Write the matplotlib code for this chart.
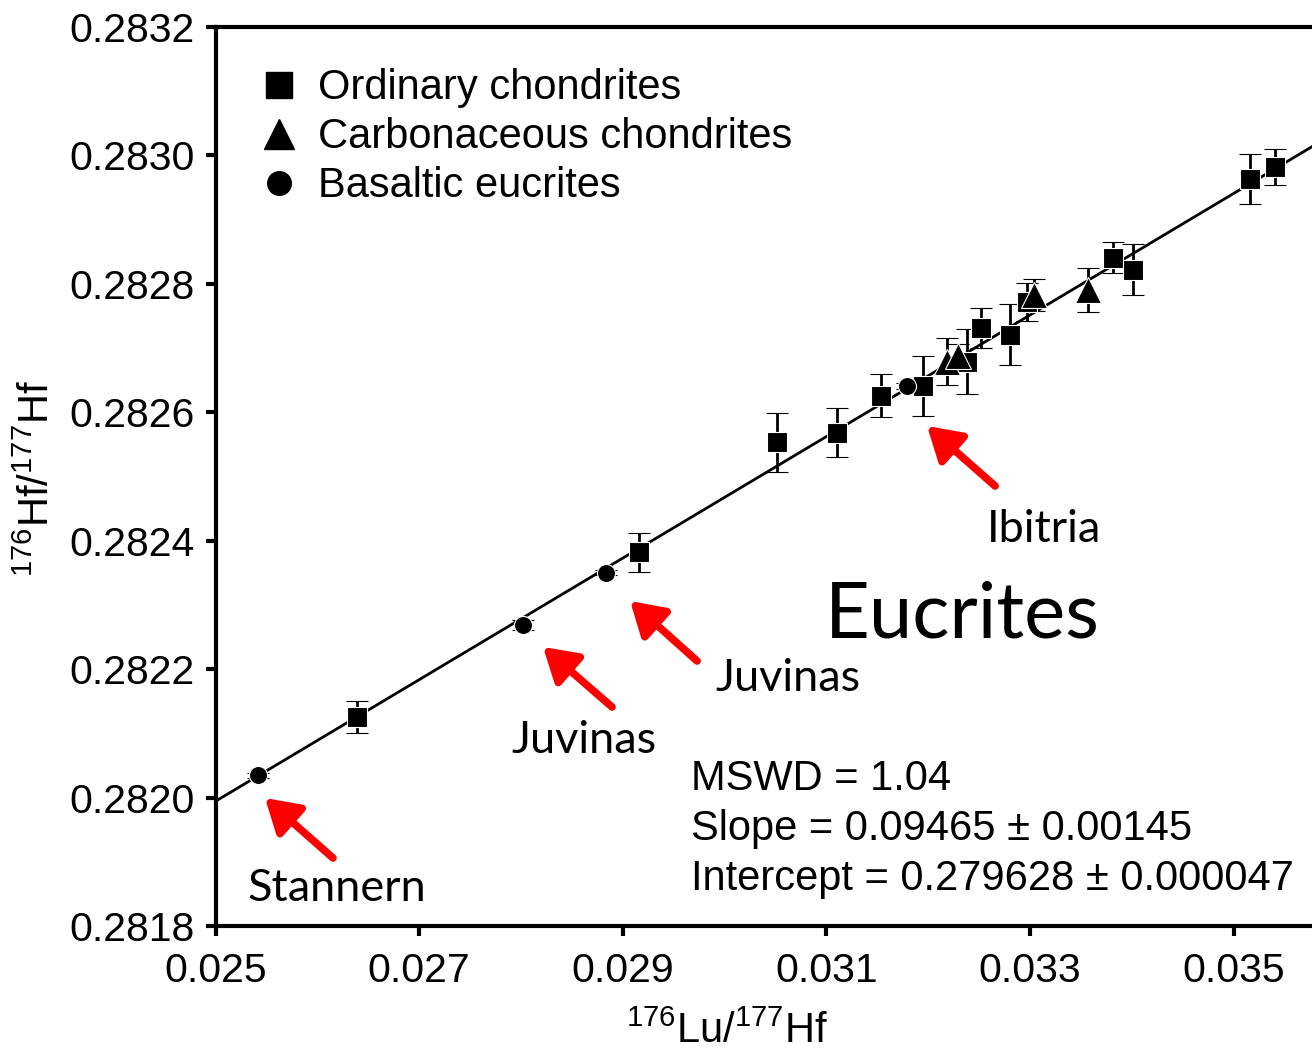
"""Lu-Hf isochron for chondrites and basaltic eucrites."""

import matplotlib

matplotlib.use("Agg")
import matplotlib.pyplot as plt
import numpy as np
from matplotlib.lines import Line2D

# ordinary chondrites
oc_x = [0.02639, 0.02916, 0.030516, 0.031102, 0.031534, 0.031953, 0.032379,
        0.032517, 0.032805, 0.032969, 0.033813, 0.034010, 0.035162, 0.035408]
oc_y = [0.282126, 0.282382, 0.282553, 0.282568, 0.282626, 0.282641, 0.282679,
        0.282731, 0.282721, 0.282772, 0.282841, 0.282822, 0.282964, 0.282982]
oc_err = [0.000025, 0.000030, 0.000046, 0.000038, 0.000034, 0.000047, 0.000050,
          0.000031, 0.000047, 0.000030, 0.000024, 0.000040, 0.000039, 0.000028]

# carbonaceous chondrites
cc_x = [0.032189, 0.032297, 0.033040, 0.033574]
cc_y = [0.282679, 0.282687, 0.282783, 0.282790]
cc_err = [0.000036, 0.000020, 0.000025, 0.000034]

# basaltic eucrites
be_x = [0.025417, 0.028021, 0.028836, 0.031790]
be_y = [0.282035, 0.282269, 0.282350, 0.282641]
be_err = [0.000004, 0.000008, 0.000004, 0.000004]

slope = 0.09465
intercept = 0.279628
stats = ["MSWD = 1.04",
         "Slope = 0.09465 \u00b1 0.00145",
         "Intercept = 0.279628 \u00b1 0.000047"]

# label, text position, arrow tail, arrow head
notes = [
    ("Stannern", (0.026194, 0.2818590), (0.026154, 0.2819059), (0.025486, 0.2819993)),
    ("Juvinas", (0.028620, 0.2820890), (0.028895, 0.2821410), (0.028217, 0.2822345)),
    ("Juvinas", (0.030624, 0.2821860), (0.029730, 0.2822127), (0.029072, 0.2823061)),
    ("Ibitria", (0.033139, 0.2824180), (0.032657, 0.2824852), (0.031989, 0.2825786)),
]

XLIM = (0.025, 0.03577)
YLIM = (0.2818, 0.2832)

plt.rcParams["font.family"] = ["Liberation Sans", "DejaVu Sans"]
plt.rcParams["mathtext.default"] = "regular"

fig = plt.figure(figsize=(13.12, 10.54), dpi=100)
ax = fig.add_axes([215.5 / 1312, 1 - 926 / 1054, 1 - 215.5 / 1312, 899 / 1054])
W, H = 1312 - 215.5, 899

xx = np.array(XLIM)
ax.plot(xx, intercept + slope * xx, color="black", lw=2, zorder=2)

eb = dict(ecolor="black", elinewidth=2, capsize=8, capthick=2, mfc="black",
          mec="white", mew=0.8, ls="none", zorder=3)
ax.errorbar(oc_x, oc_y, yerr=oc_err, fmt="s", ms=14.5, **eb)
ax.errorbar(cc_x, cc_y, yerr=cc_err, fmt="^", ms=19, **eb)
ax.errorbar(be_x, be_y, yerr=be_err, fmt="o", ms=13, **eb)

ax.set_xlim(*XLIM)
ax.set_ylim(*YLIM)
ax.set_xticks([0.025, 0.027, 0.029, 0.031, 0.033, 0.035])
ax.set_xticklabels(["0.025", "0.027", "0.029", "0.031", "0.033", "0.035"])
ax.set_yticks(np.arange(0.2818, 0.28321, 0.0002))
ax.set_yticklabels(["0.2818", "0.2820", "0.2822", "0.2824", "0.2826",
                    "0.2828", "0.2830", "0.2832"])
ax.tick_params(direction="out", length=7, width=3, labelsize=29.5)
ax.tick_params(axis="y", pad=8)
ax.tick_params(axis="x", pad=12)
ax.spines["right"].set_visible(False)
for s in ("left", "top", "bottom"):
    ax.spines[s].set_linewidth(3)

ax.set_xlabel("$^{176}$Lu/$^{177}$Hf", fontsize=30)
ax.xaxis.set_label_coords((727 - 215.5) / W, -(1012 - 926) / H)
ax.set_ylabel("$^{176}$Hf/$^{177}$Hf", fontsize=30)
ax.yaxis.set_label_coords(-(215.5 - 58) / W, (926 - 478) / H)

handles = [
    Line2D([], [], marker="s", color="black", ls="none", ms=18.5),
    Line2D([], [], marker="^", color="black", ls="none", ms=21),
    Line2D([], [], marker="o", color="black", ls="none", ms=17),
]
ax.legend(handles, ["Ordinary chondrites", "Carbonaceous chondrites",
                    "Basaltic eucrites"],
          loc="upper left", bbox_to_anchor=(0.005, 0.996), frameon=False,
          fontsize=30, handlelength=1.0, handletextpad=0.42, labelspacing=0.22)

for i, line in enumerate(stats):
    ax.text(0.434, (926 - 779) / H - i * 50 / H, line, transform=ax.transAxes,
            fontsize=30, va="center", ha="left")

for label, pos, tail, head in notes:
    ax.annotate("", xy=head, xytext=tail,
                arrowprops=dict(arrowstyle="-|>,head_length=0.9,head_width=0.55",
                                color="red", lw=5.5, mutation_scale=22,
                                shrinkA=0, shrinkB=0))
    ax.text(*pos, label, fontsize=32.5, family=["Lato", "DejaVu Sans"],
            ha="center", va="center")

ax.text(0.032333, 0.2822828, "Eucrites", fontsize=56, family=["Lato", "DejaVu Sans"],
        ha="center", va="center")

fig.savefig("out.png", dpi=100)
